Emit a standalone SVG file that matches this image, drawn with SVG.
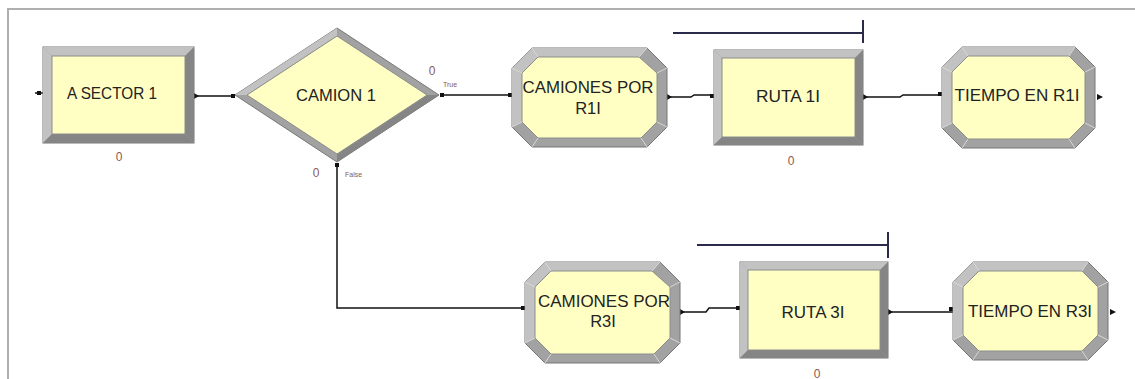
<svg xmlns="http://www.w3.org/2000/svg" width="1135" height="379" viewBox="0 0 1135 379">
<style>
.frame{stroke:#b0aeb0;stroke-width:2;fill:none}
.outer{fill:#a2a2a2;stroke:#777;stroke-width:1}
.lt{fill:#c2c2c2}
.dk{fill:#858585}
.inner{fill:#ffffc4;stroke:#8c8c8c;stroke-width:1}
.bev{stroke:#d8d8d8;stroke-width:1;fill:none}
.lbl{font-family:"Liberation Sans",Arial,sans-serif;font-size:16.5px;fill:#222;text-anchor:middle}
.cnt{font-family:"Liberation Sans",Arial,sans-serif;font-size:12px;fill:#8a5a50;text-anchor:middle}
.tiny{font-family:"Liberation Sans",Arial,sans-serif;font-size:7px;fill:#8a5a50}
.ln{stroke:#111;stroke-width:1.5;fill:none}
.pt{fill:#111}
.bar{stroke:#2a2a4a;stroke-width:2;fill:none}
</style>
<rect width="1135" height="379" fill="#fff"/>
<path class="frame" d="M8 379 V9 H1135"/>

<g id="connectors">
  <path class="ln" d="M35 93 H43"/>
  <rect class="pt" x="37" y="91" width="4" height="4"/>
  <path class="ln" d="M196 96 H235"/>
  <polygon class="pt" points="194,93 199,96 194,99"/>
  <rect class="pt" x="231" y="94" width="4" height="4"/>
  <path class="ln" d="M442 95 H512"/>
  <rect class="pt" x="440" y="93" width="4" height="4"/>
  <rect class="pt" x="508" y="93" width="4" height="4"/>
  <path class="ln" d="M668 97 H691 L694 95 H714"/>
  <polygon class="pt" points="667,94 672,97 667,100"/>
  <rect class="pt" x="710" y="94" width="4" height="4"/>
  <path class="ln" d="M864 97 H900 L903 95 H942"/>
  <polygon class="pt" points="863,94 868,97 863,100"/>
  <rect class="pt" x="938" y="92" width="4" height="4"/>
  <polygon class="pt" points="1097,94 1103,97 1097,100"/>
  <path class="ln" d="M337 165 V308 H525"/>
  <rect class="pt" x="335" y="163" width="4" height="4"/>
  <rect class="pt" x="521" y="306" width="4" height="4"/>
  <path class="ln" d="M681 312 H706 L709 308 H740"/>
  <polygon class="pt" points="680,309 685,312 680,315"/>
  <rect class="pt" x="736" y="306" width="4" height="4"/>
  <path class="ln" d="M889 312 H953"/>
  <polygon class="pt" points="888,309 893,312 888,315"/>
  <rect class="pt" x="949" y="307" width="4" height="4"/>
  <polygon class="pt" points="1110,309 1116,312 1110,315"/>
</g>

<g id="a-sector-1">
  <rect class="outer" x="43" y="47" width="151" height="96"/>
  <polygon class="lt" points="43,47 194,47 185,56 52,56"/>
  <polygon class="lt" points="43,47 52,56 52,134 43,143"/>
  <polygon class="dk" points="43,143 52,134 185,134 194,143"/>
  <polygon class="dk" points="194,47 194,143 185,134 185,56"/>
  <rect class="inner" x="52" y="56" width="133" height="78"/>
  <text class="lbl" x="112" y="99" textLength="90" lengthAdjust="spacingAndGlyphs">A SECTOR 1</text>
  <text class="cnt" x="119" y="161">0</text>
</g>

<g id="camion-1">
  <polygon class="outer" points="235,95 337,28 439,95 337,162"/>
  <polygon class="lt" points="235,95 337,28 337,36 247,95"/>
  <polygon class="dk" points="337,162 439,95 427,95 337,154"/>
  <polygon class="inner" points="247,95 337,36 427,95 337,154"/>
  <text class="lbl" x="336" y="101" textLength="80" lengthAdjust="spacingAndGlyphs">CAMION 1</text>
  <text class="cnt" x="432" y="75">0</text>
  <text class="tiny" x="443" y="87">True</text>
  <text class="cnt" x="316" y="177">0</text>
  <text class="tiny" x="345" y="177">False</text>
</g>

<g id="camiones-por-r1i">
  <polygon class="outer" points="532,48 647,48 667,68 667,127 647,147 532,147 512,127 512,68"/>
  <polygon class="lt" points="532,48 647,48 639,57 538,57 522,73 522,122 512,127 512,68"/>
  <polygon class="inner" points="538,57 639,57 657,73 657,122 641,138 538,138 522,122 522,73"/>
  <path class="bev" d="M512 68 L522 73 M532 48 L538 57 M647 48 L639 57 M667 68 L657 73 M667 127 L657 122 M647 147 L641 138 M532 147 L538 138 M512 127 L522 122"/>
  <text class="lbl" x="588" y="93" textLength="131" lengthAdjust="spacingAndGlyphs">CAMIONES POR</text>
  <text class="lbl" x="588" y="114">R1I</text>
</g>

<g id="ruta-1i">
  <path class="bar" d="M673 33 H863 M863 20 V43"/>
  <rect class="outer" x="714" y="50" width="149" height="95"/>
  <polygon class="lt" points="714,50 863,50 855,58 722,58"/>
  <polygon class="lt" points="714,50 722,58 722,137 714,145"/>
  <polygon class="dk" points="714,145 722,137 855,137 863,145"/>
  <polygon class="dk" points="863,50 863,145 855,137 855,58"/>
  <rect class="inner" x="722" y="58" width="133" height="79"/>
  <text class="lbl" x="788" y="102" textLength="64" lengthAdjust="spacingAndGlyphs">RUTA 1I</text>
  <text class="cnt" x="791" y="165">0</text>
</g>

<g id="tiempo-en-r1i">
  <polygon class="outer" points="962,47 1075,47 1095,67 1095,128 1075,148 962,148 942,128 942,67"/>
  <polygon class="lt" points="962,47 1075,47 1069,56 968,56 952,72 952,123 942,128 942,67"/>
  <polygon class="inner" points="968,56 1069,56 1085,72 1085,123 1069,139 968,139 952,123 952,72"/>
  <path class="bev" d="M942 67 L952 72 M962 47 L968 56 M1075 47 L1069 56 M1095 67 L1085 72 M1095 128 L1085 123 M1075 148 L1069 139 M962 148 L968 139 M942 128 L952 123"/>
  <text class="lbl" x="1017" y="101" textLength="125" lengthAdjust="spacingAndGlyphs">TIEMPO EN R1I</text>
</g>

<g id="camiones-por-r3i">
  <polygon class="outer" points="545,262 660,262 680,282 680,343 660,363 545,363 525,343 525,282"/>
  <polygon class="lt" points="545,262 660,262 652,271 551,271 535,287 535,338 525,343 525,282"/>
  <polygon class="inner" points="551,271 652,271 670,287 670,338 654,354 551,354 535,338 535,287"/>
  <path class="bev" d="M525 282 L535 287 M545 262 L551 271 M660 262 L652 271 M680 282 L670 287 M680 343 L670 338 M660 363 L654 354 M545 363 L551 354 M525 343 L535 338"/>
  <text class="lbl" x="604" y="307" textLength="132" lengthAdjust="spacingAndGlyphs">CAMIONES POR</text>
  <text class="lbl" x="603" y="327">R3I</text>
</g>

<g id="ruta-3i">
  <path class="bar" d="M697 245 H888 M888 232 V258"/>
  <rect class="outer" x="740" y="262" width="148" height="96"/>
  <polygon class="lt" points="740,262 888,262 880,270 748,270"/>
  <polygon class="lt" points="740,262 748,270 748,350 740,358"/>
  <polygon class="dk" points="740,358 748,350 880,350 888,358"/>
  <polygon class="dk" points="888,262 888,358 880,350 880,270"/>
  <rect class="inner" x="748" y="270" width="132" height="80"/>
  <text class="lbl" x="813" y="318" textLength="63" lengthAdjust="spacingAndGlyphs">RUTA 3I</text>
  <text class="cnt" x="817" y="378">0</text>
</g>

<g id="tiempo-en-r3i">
  <polygon class="outer" points="973,262 1088,262 1108,282 1108,340 1088,360 973,360 953,340 953,282"/>
  <polygon class="lt" points="973,262 1088,262 1082,271 979,271 963,287 963,335 953,340 953,282"/>
  <polygon class="inner" points="979,271 1082,271 1098,287 1098,335 1082,351 979,351 963,335 963,287"/>
  <path class="bev" d="M953 282 L963 287 M973 262 L979 271 M1088 262 L1082 271 M1108 282 L1098 287 M1108 340 L1098 335 M1088 360 L1082 351 M973 360 L979 351 M953 340 L963 335"/>
  <text class="lbl" x="1030" y="317" textLength="124" lengthAdjust="spacingAndGlyphs">TIEMPO EN R3I</text>
</g>
</svg>
